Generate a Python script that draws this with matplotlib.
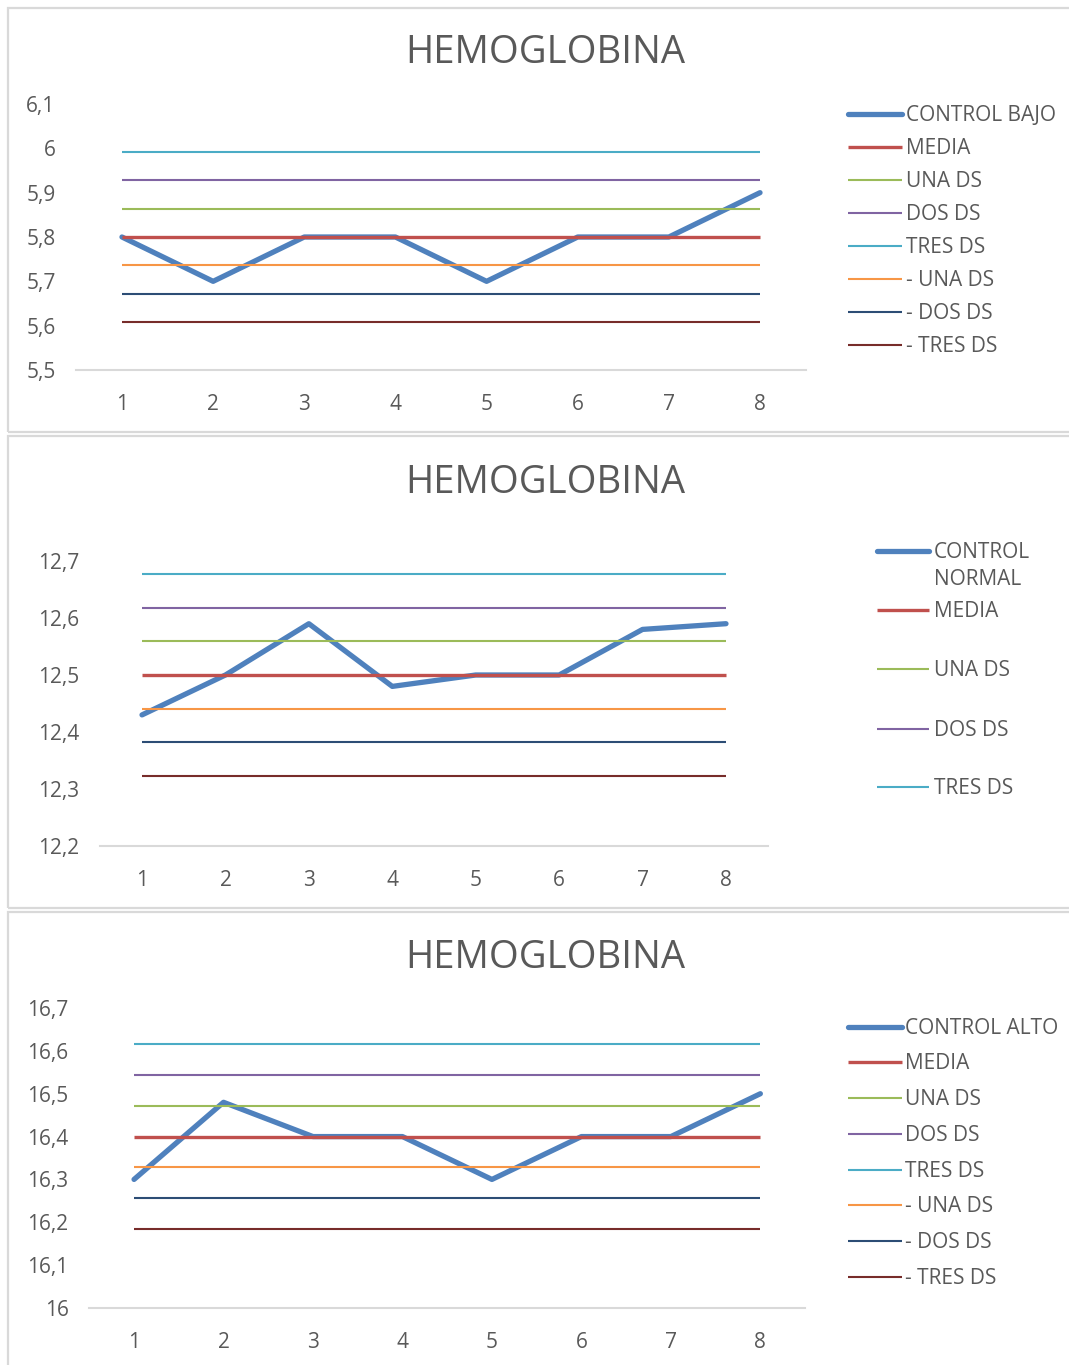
import matplotlib
matplotlib.use("Agg")
import matplotlib.pyplot as plt
from matplotlib.lines import Line2D
from matplotlib.patches import Rectangle
from matplotlib.ticker import FixedLocator, FuncFormatter

W, H, DPI = 1069, 1365, 100

runs = [1, 2, 3, 4, 5, 6, 7, 8]

control_bajo = [5.8, 5.7, 5.8, 5.8, 5.7, 5.8, 5.8, 5.9]
control_normal = [12.43, 12.5, 12.59, 12.48, 12.5, 12.5, 12.58, 12.59]
control_alto = [16.3, 16.48, 16.4, 16.4, 16.3, 16.4, 16.4, 16.5]

# control levels: media, +1, +2, +3, -1, -2, -3 DS
niveles_bajo = [5.8, 5.864, 5.928, 5.992, 5.736, 5.672, 5.608]
niveles_normal = [12.5, 12.559, 12.618, 12.677, 12.441, 12.382, 12.323]
niveles_alto = [16.4, 16.472, 16.544, 16.616, 16.328, 16.256, 16.184]

nombres_niveles = ["MEDIA", "UNA DS", "DOS DS", "TRES DS", "- UNA DS", "- DOS DS", "- TRES DS"]

yticks_bajo = [5.5, 5.6, 5.7, 5.8, 5.9, 6.0, 6.1]
yticks_normal = [12.2, 12.3, 12.4, 12.5, 12.6, 12.7]
yticks_alto = [16.0, 16.1, 16.2, 16.3, 16.4, 16.5, 16.6, 16.7]

titulo = "HEMOGLOBINA"

COLOR_CONTROL = "#4F81BD"
COLORES_NIVELES = ["#C0504D", "#9BBB59", "#8064A2", "#4BACC6", "#F79646", "#2C4D75", "#772C2A"]
ANCHO_NIVELES = [2.4, 1.5, 1.5, 1.5, 1.5, 1.5, 1.5]
ANCHO_CONTROL = 3.8
GRIS_TEXTO = "#595959"
GRIS_LINEA = "#D9D9D9"

FONT = ["Open Sans", "DejaVu Sans"]
plt.rcParams["font.family"] = FONT

TAM_TICKS = 15
TAM_LEYENDA = 15
TAM_TITULO = 27.5


def fx(x):
    return x / W


def fy(y):
    return 1 - y / H


fig = plt.figure(figsize=(W / DPI, H / DPI), dpi=DPI)

paneles = [
    dict(control=control_bajo, nombre="CONTROL BAJO", niveles=niveles_bajo, yticks=yticks_bajo,
         ax=(76.4, 805.6, 104, 370), marco=(8, 432), titulo_y=53,
         leyenda=dict(x0=848, x1=902, xt=906, ys=[114, 147, 180, 213, 246, 279, 312, 345], n=8)),
    dict(control=control_normal, nombre="CONTROL\nNORMAL", niveles=niveles_normal, yticks=yticks_normal,
         ax=(100.3, 767.7, 561, 846), marco=(436, 908), titulo_y=483,
         leyenda=dict(x0=877, x1=929, xt=934, ys=[551, 610, 669, 729, 787], n=5)),
    dict(control=control_alto, nombre="CONTROL ALTO", niveles=niveles_alto, yticks=yticks_alto,
         ax=(89.3, 805.1, 1008, 1308), marco=(912, 1372), titulo_y=958,
         leyenda=dict(x0=848, x1=902, xt=905, ys=[1027, 1062, 1098, 1134, 1170, 1205, 1241, 1277], n=8)),
]


def fmt_coma(v, pos=None):
    return f"{round(v, 1):g}".replace(".", ",")


for p in paneles:
    # panel frame
    top, bot = p["marco"]
    fig.patches.append(Rectangle((fx(8), fy(bot)), fx(1100 - 8), (bot - top) / H,
                                 transform=fig.transFigure, facecolor="none",
                                 edgecolor=GRIS_LINEA, lw=1.6, clip_on=False))

    x0, x1, ytop, ybot = p["ax"]
    ax = fig.add_axes([fx(x0), fy(ybot), (x1 - x0) / W, (ybot - ytop) / H])
    ax.set_facecolor("none")
    ax.set_xlim(0.5, 8.5)
    ax.set_ylim(p["yticks"][0], p["yticks"][-1])

    ax.plot(runs, p["control"], color=COLOR_CONTROL, lw=ANCHO_CONTROL,
            solid_capstyle="round", solid_joinstyle="round", zorder=2)
    for v, c, lw in zip(p["niveles"], COLORES_NIVELES, ANCHO_NIVELES):
        ax.hlines(v, runs[0], runs[-1], colors=c, lw=lw, zorder=3)

    for s in ("top", "right", "left"):
        ax.spines[s].set_visible(False)
    ax.spines["bottom"].set_color(GRIS_LINEA)
    ax.spines["bottom"].set_linewidth(1.5)
    ax.xaxis.set_major_locator(FixedLocator(runs))
    ax.yaxis.set_major_locator(FixedLocator(p["yticks"]))
    ax.yaxis.set_major_formatter(FuncFormatter(fmt_coma))
    ax.tick_params(axis="x", length=0, pad=17.5, labelsize=TAM_TICKS, labelcolor=GRIS_TEXTO)
    ax.tick_params(axis="y", length=0, pad=15, labelsize=TAM_TICKS, labelcolor=GRIS_TEXTO)

    fig.text(fx(545), fy(p["titulo_y"]), titulo, ha="center", va="center",
             fontsize=TAM_TITULO, color=GRIS_TEXTO)

    # legend
    lg = p["leyenda"]
    nombres = [p["nombre"]] + nombres_niveles
    colores = [COLOR_CONTROL] + COLORES_NIVELES
    anchos = [ANCHO_CONTROL] + ANCHO_NIVELES
    for i in range(lg["n"]):
        y = lg["ys"][i]
        cap = "round" if i == 0 else "butt"
        fig.add_artist(Line2D([fx(lg["x0"]), fx(lg["x1"])], [fy(y), fy(y)],
                              transform=fig.transFigure, color=colores[i], lw=anchos[i],
                              solid_capstyle=cap))
        if "\n" in nombres[i]:
            fig.text(fx(lg["xt"]), fy(y - 9), nombres[i], ha="left", va="top",
                     fontsize=TAM_LEYENDA, color=GRIS_TEXTO, linespacing=1.4)
        else:
            fig.text(fx(lg["xt"]), fy(y + 1.5), nombres[i], ha="left", va="center",
                     fontsize=TAM_LEYENDA, color=GRIS_TEXTO)

fig.savefig("out.png", dpi=DPI)
